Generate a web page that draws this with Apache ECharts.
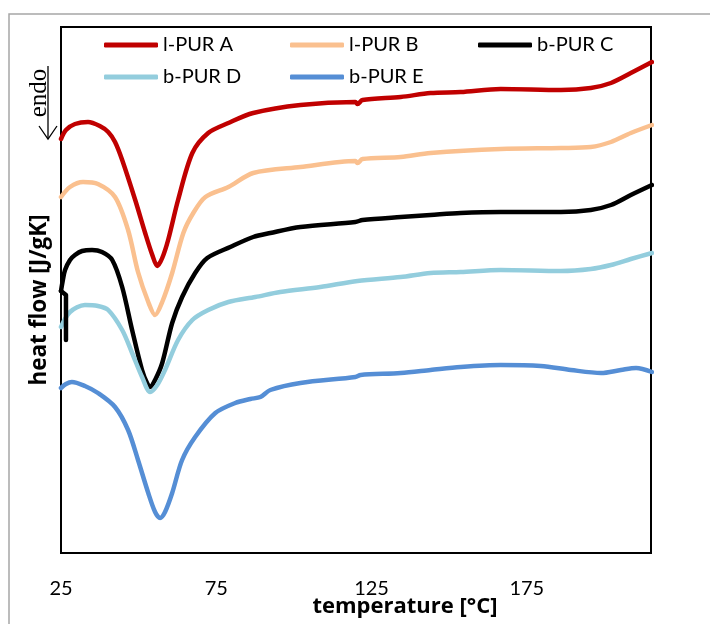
<!DOCTYPE html>
<html>
<head>
<meta charset="utf-8">
<script src="https://cdn.jsdelivr.net/npm/echarts@6/dist/echarts.min.js"></script>
<style>
  html, body { margin: 0; padding: 0; background: #fff; }
  #chart { width: 710px; height: 624px; }
</style>
</head>
<body>
<div id="chart"></div>
<script>
// series names and colours
const names = ['l-PUR A', 'l-PUR B', 'b-PUR C', 'b-PUR D', 'b-PUR E'];
const colors = ['#C00000', '#FAC08F', '#000000', '#93CDDD', '#558ED5'];

// x tick labels (temperature, °C)
const xTicks = [25, 75, 125, 175];

// [temperature °C, heat flow (arb. units, endo down)]
const purA = [
    [25.0, 4.14], [26.6, 4.23], [29.5, 4.29], [33.7, 4.31], [37.5, 4.27], [40.2, 4.21],
    [42.4, 4.11], [44.7, 3.93], [48.9, 3.53], [52.1, 3.20], [54.4, 2.98], [56.0, 2.87],
    [57.6, 2.95], [59.5, 3.13], [62.7, 3.53], [67.3, 4.00], [72.4, 4.20], [78.9, 4.30],
    [86.9, 4.40], [102.1, 4.48], [119.8, 4.51], [120.5, 4.49], [122.1, 4.53], [134.4, 4.56],
    [144.0, 4.60], [153.7, 4.61], [166.6, 4.64], [186.0, 4.63], [195.6, 4.65], [202.1, 4.70],
    [208.5, 4.80], [215.3, 4.91]
];
const purB = [
    [25.0, 3.56], [27.9, 3.66], [32.1, 3.71], [36.9, 3.69], [42.4, 3.56], [46.6, 3.23],
    [49.8, 2.81], [53.1, 2.51], [55.3, 2.38], [57.6, 2.51], [60.8, 2.80], [64.4, 3.20],
    [67.6, 3.40], [71.5, 3.56], [78.9, 3.66], [86.9, 3.80], [102.1, 3.86], [119.8, 3.92],
    [120.5, 3.90], [122.1, 3.94], [134.4, 3.96], [144.0, 4.00], [166.6, 4.04], [186.0, 4.05],
    [195.6, 4.06], [202.1, 4.11], [208.5, 4.20], [215.3, 4.28]
];
// start-up transient of b-PUR C
const purCStart = [[26.6, 2.13], [26.6, 2.58], [25.0, 2.62]];
const purC = [
    [25.0, 2.62], [25.6, 2.73], [26.3, 2.83], [27.9, 2.93], [29.5, 2.98], [31.8, 3.02],
    [35.0, 3.03], [38.2, 3.01], [41.5, 2.93], [44.7, 2.66], [47.9, 2.23], [51.1, 1.83],
    [52.7, 1.70], [53.7, 1.66], [55.3, 1.73], [57.6, 1.90], [60.8, 2.30], [64.0, 2.56],
    [68.2, 2.80], [72.1, 2.95], [79.5, 3.06], [86.9, 3.16], [92.4, 3.20], [102.1, 3.26],
    [119.8, 3.31], [122.1, 3.33], [134.4, 3.36], [144.0, 3.38], [153.7, 3.40], [166.6, 3.41],
    [186.0, 3.41], [195.6, 3.43], [202.1, 3.48], [208.5, 3.58], [215.3, 3.68]
];
const purD = [
    [25.0, 2.26], [27.9, 2.41], [32.7, 2.48], [36.9, 2.47], [40.2, 2.43], [44.7, 2.23],
    [47.9, 2.00], [51.1, 1.76], [53.7, 1.61], [56.0, 1.68], [58.5, 1.83], [62.7, 2.13],
    [67.3, 2.33], [72.4, 2.43], [78.9, 2.51], [87.6, 2.56], [95.6, 2.61], [108.5, 2.66],
    [120.5, 2.72], [134.4, 2.76], [144.0, 2.80], [153.7, 2.81], [166.6, 2.83], [186.0, 2.82],
    [195.6, 2.84], [202.1, 2.88], [208.5, 2.94], [215.3, 3.00]
];
const purE = [
    [25.0, 1.65], [26.6, 1.69], [28.5, 1.71], [32.7, 1.67], [36.9, 1.60], [42.4, 1.46],
    [46.6, 1.23], [49.8, 0.93], [53.1, 0.60], [55.3, 0.41], [56.9, 0.35], [58.5, 0.41],
    [60.8, 0.60], [64.0, 0.93], [68.2, 1.16], [74.7, 1.40], [81.1, 1.50], [86.0, 1.54],
    [89.2, 1.56], [92.4, 1.63], [102.1, 1.70], [119.8, 1.76], [121.5, 1.78], [134.4, 1.80],
    [144.0, 1.83], [153.7, 1.86], [166.6, 1.88], [179.5, 1.87], [189.2, 1.83], [198.9, 1.80],
    [205.3, 1.83], [210.2, 1.85], [215.3, 1.81]
];
const allData = [purA, purB, purC, purD, purE];

const chart = echarts.init(document.getElementById('chart'), null, { renderer: 'canvas' });

// legend placement: two rows, three columns
const legendPos = [[104, 35], [290, 35], [478, 35], [104, 67], [290, 67]];

function lineSeries(name, data, color, smooth) {
    return {
        name: name,
        type: 'line',
        data: data,
        smooth: smooth,
        showSymbol: false,
        symbol: 'none',
        clip: true,
        lineStyle: { color: color, width: 4.5, cap: 'round', join: 'round' },
        itemStyle: { color: color }
    };
}

const series = allData.map((d, i) => lineSeries(names[i], d, colors[i], 0.3));
series.push(lineSeries(names[2], purCStart, colors[2], false));

const option = {
    backgroundColor: '#fff',
    animation: false,
    grid: {
        left: 61, right: 59, top: 27, bottom: 71,
        show: true,
        borderColor: '#000',
        borderWidth: 2,
        backgroundColor: 'transparent'
    },
    legend: names.map((n, i) => ({
        data: [n],
        left: legendPos[i][0],
        top: legendPos[i][1],
        padding: 0,
        icon: 'roundRect',
        itemWidth: 54,
        itemHeight: 5,
        itemGap: 5,
        textStyle: { fontFamily: 'Lato', fontSize: 20, color: '#000' }
    })),
    xAxis: {
        type: 'value',
        min: 25,
        max: 215,
        interval: 50,
        axisLine: { show: false },
        axisTick: { show: false },
        splitLine: { show: false },
        axisLabel: {
            margin: 26,
            fontFamily: 'Lato',
            fontSize: 20,
            color: '#000',
            showMaxLabel: false,
            formatter: v => (xTicks.indexOf(v) >= 0 ? String(v) : '')
        }
    },
    yAxis: {
        type: 'value',
        min: 0,
        max: 5.26,
        axisLine: { show: false },
        axisTick: { show: false },
        splitLine: { show: false },
        axisLabel: { show: false }
    },
    series: series,
    graphic: [
        // outer frame
        { type: 'rect', shape: { x: 9, y: 14, width: 760, height: 700 },
          style: { fill: 'none', stroke: '#a6a6a6', lineWidth: 1.5 }, z: 0 },
        // x axis title
        { type: 'text', x: 405, y: 607,
          style: { text: 'temperature [°C]', font: 'bold 22px "Open Sans"', fill: '#000',
                   align: 'center', verticalAlign: 'middle' } },
        // y axis title
        { type: 'text', x: 40, y: 300, rotation: Math.PI / 2,
          style: { text: 'heat flow [J/gK]', font: 'bold 22.5px "Open Sans"', fill: '#000',
                   align: 'center', verticalAlign: 'middle' } },
        // endo label with arrow
        { type: 'text', x: 39, y: 93, rotation: Math.PI / 2,
          style: { text: 'endo', font: '25px "Liberation Serif"', fill: '#000',
                   align: 'center', verticalAlign: 'middle' } },
        { type: 'polyline', shape: { points: [[48, 66], [48, 139]] },
          style: { stroke: '#000', lineWidth: 1.3, fill: 'none' } },
        { type: 'polyline', shape: { points: [[39, 126], [48, 139], [57, 126]] },
          style: { stroke: '#000', lineWidth: 1.3, fill: 'none' } }
    ]
};

chart.setOption(option);
</script>
</body>
</html>
